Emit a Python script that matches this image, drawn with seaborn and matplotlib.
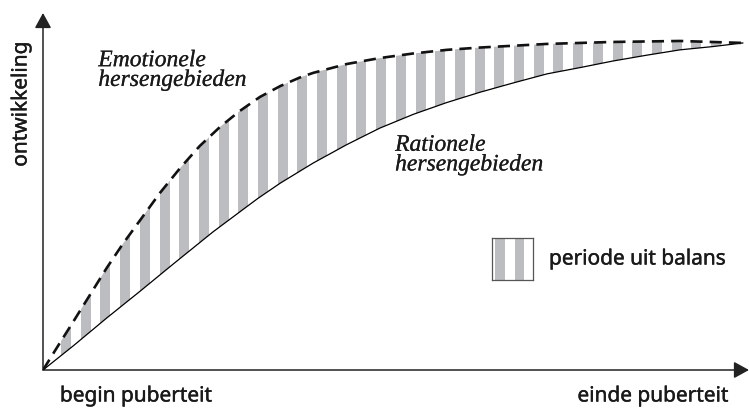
import numpy as np
import seaborn as sns
import matplotlib
matplotlib.use("Agg")
import matplotlib.pyplot as plt
import matplotlib.patheffects as pe
from matplotlib.patches import Polygon

# curve readings (x: time 0-100, y: development 0-100)
emo_x = [0, 2.4, 4.3, 6.7, 9.1, 11.4, 13.9, 16.7, 19.6, 22.4, 25.3, 28.1, 31.0,
         33.9, 36.7, 38.6, 43.4, 48.1, 52.9, 57.7, 62.4, 72.0, 81.4, 91.0, 100.0]
emo_y = [0, 8.2, 14.6, 22.8, 31.0, 38.3, 45.6, 53.8, 61.4, 68.1, 73.9, 78.7, 83.0,
         86.3, 88.9, 90.3, 93.0, 94.8, 96.2, 97.3, 98.0, 99.1, 99.7, 100.0, 99.4]

rat_x = [0, 4.3, 9.1, 13.9, 18.6, 24.3, 30.6, 33.9, 38.6, 43.4, 48.1, 52.9, 57.7,
         62.4, 67.1, 72.0, 76.7, 81.4, 86.3, 91.0, 95.7, 100.0]
rat_y = [0, 7.3, 15.8, 24.0, 32.2, 42.0, 52.0, 56.8, 62.9, 68.5, 73.5, 77.7, 81.3,
         84.4, 87.2, 90.0, 91.9, 93.9, 95.7, 97.3, 98.3, 99.4]

labels_curve = ["Emotionele\nhersengebieden", "Rationele\nhersengebieden"]
y_label = "ontwikkeling"
x_start, x_end = "begin puberteit", "einde puberteit"
legend_label = "periode uit balans"

gray = "#bcbdc0"
ink = "#1a1a1a"
sans = ["Noto Sans", "DejaVu Sans"]
serif = ["Liberation Serif", "DejaVu Serif"]
heavy = [pe.withStroke(linewidth=0.3, foreground=ink)]
semi = [pe.withStroke(linewidth=0.15, foreground=ink)]

sns.set_theme(style="white")
plt.rcParams["font.family"] = sans

W, H = 749, 411
fig = plt.figure(figsize=(W / 100, H / 100), dpi=100)
ax = fig.add_axes([43 / W, 41 / H, 706 / W, 357 / H])
ax.set_xlim(0, 100.86)
ax.set_ylim(0, 108.5)
ax.set_axis_off()

# striped band between the two curves
band = Polygon(np.column_stack([np.r_[emo_x, rat_x[::-1]], np.r_[emo_y, rat_y[::-1]]]),
               closed=True, facecolor="none", edgecolor="none")
ax.add_patch(band)
stripe_centers = 3.29 + 2.814 * np.arange(35)
bars = ax.bar(stripe_centers, 108, width=1.43, bottom=0, color=gray, linewidth=0, zorder=1)
for b in bars:
    b.set_clip_path(band)

sns.lineplot(x=rat_x, y=rat_y, ax=ax, color="black", linewidth=0.9, zorder=3)
sns.lineplot(x=emo_x, y=emo_y, ax=ax, color="#111111", linewidth=1.9,
             linestyle=(0, (4.6, 2.7)), zorder=4)

# axes with arrowheads
arrow = dict(arrowstyle="-|>,head_length=0.4,head_width=0.22", color="#222222",
             lw=1.1, mutation_scale=23, shrinkA=0, shrinkB=0)
ax.annotate("", xy=(0, 1), xytext=(0, 0), xycoords="axes fraction", arrowprops=arrow)
ax.annotate("", xy=(1, 0), xytext=(0, 0), xycoords="axes fraction", arrowprops=arrow)

ax.text(7.9, 97.2, labels_curve[0], family=serif, style="italic", fontsize=17,
        ha="left", va="top", linespacing=0.92, color=ink, path_effects=semi)
ax.text(50.3, 71.5, labels_curve[1], family=serif, style="italic", fontsize=17,
        ha="left", va="top", linespacing=0.92, color=ink, path_effects=semi)

fs = 15
fig.text(21 / W, 1 - 104 / H, y_label, rotation=90, ha="center", va="center",
         fontsize=fs, color=ink, path_effects=heavy)
fig.text(136 / W, 1 - 396 / H, x_start, ha="center", va="center", fontsize=fs,
         color=ink, path_effects=heavy)
fig.text(653 / W, 1 - 396 / H, x_end, ha="center", va="center", fontsize=fs,
         color=ink, path_effects=heavy)

# legend swatch
lax = fig.add_axes([492 / W, 1 - 280 / H, 41 / W, 42 / H])
lax.set_xlim(0, 41)
lax.set_ylim(0, 1)
lax.set_xticks([])
lax.set_yticks([])
for s in lax.spines.values():
    s.set_color("#555555")
    s.set_linewidth(0.9)
lax.axvspan(3.3, 13.3, color=gray, lw=0)
lax.axvspan(23.3, 32.3, color=gray, lw=0)
fig.text(549 / W, 1 - 259 / H, legend_label, ha="left", va="center", fontsize=fs,
         color=ink, path_effects=heavy)

fig.savefig("out.png", dpi=100)
